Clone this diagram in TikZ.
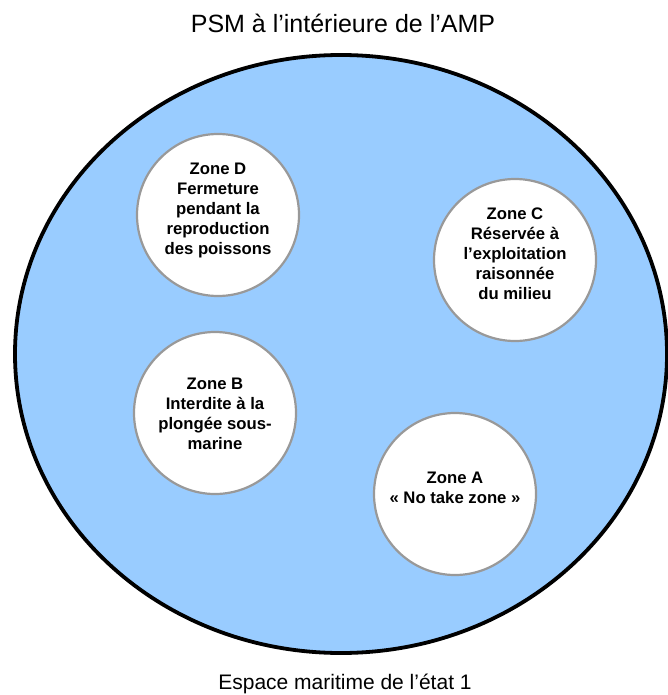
\documentclass[tikz,border=0pt]{standalone}
\usepackage{fontspec}
\setmainfont{Liberation Sans}
\usetikzlibrary{calc,shapes.geometric}
\definecolor{sea}{HTML}{99CCFF}
\definecolor{rim}{HTML}{999999}
\tikzset{
  zone/.style={circle, draw=rim, line width=2.2pt, fill=white, minimum size=162pt, inner sep=0pt},
  zonetext/.style={align=center, font=\fontsize{16.7}{20}\selectfont\bfseries, inner sep=0pt},
  caption/.style={inner sep=0pt, anchor=base}
}
\begin{document}
\begin{tikzpicture}[x=1pt, y=-1pt]
\useasboundingbox (0,0) rectangle (667,695);
\node[ellipse, draw=black, line width=3.8pt, fill=sea, minimum width=652pt, minimum height=598pt, inner sep=0pt] (sea) at (341,354) {};
\node[caption, font=\fontsize{25}{30}\selectfont] (title) at (343,33) {PSM à l’intérieure de l’AMP};
\node[caption, font=\fontsize{21}{25}\selectfont] (bottom) at (345,689) {Espace maritime de l’état 1};
\node[zone] (D) at (218,215) {};
\node[zone] (C) at (515,260) {};
\node[zone] (B) at (215,413) {};
\node[zone] (A) at (455,494) {};
\node[zonetext] (Dt) at ($(D.center)+(0,-5)$) {Zone D\\Fermeture\\pendant la\\reproduction\\des poissons};
\node[zonetext] (Ct) at ($(C.center)+(0,-6)$) {Zone C\\Réservée à\\l’exploitation\\raisonnée\\du milieu};
\node[zonetext] (Bt) at ($(B.center)+(0,1)$) {Zone B\\Interdite à la\\plongée sous-\\marine};
\node[zonetext] (At) at ($(A.center)+(0,-6)$) {Zone A\\« No take zone »};
\end{tikzpicture}
\end{document}
